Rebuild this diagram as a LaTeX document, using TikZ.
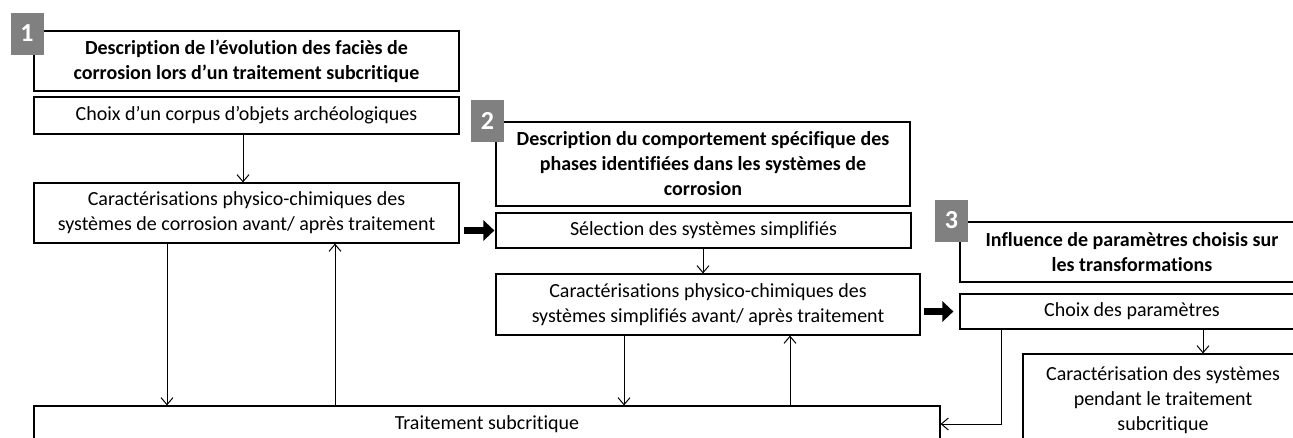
\documentclass[tikz,border=0pt]{standalone}
\usepackage{fontspec}
\setmainfont{Carlito}[Ligatures=NoCommon]
\usetikzlibrary{arrows.meta,calc}
\begin{document}
\begin{tikzpicture}[x=1pt,y=-1pt,
  box/.style={draw=black,line width=1.2pt,inner sep=0pt,align=center,font=\fontsize{20}{25}\selectfont,text=black},
  titlebox/.style={box,font=\fontsize{20}{25}\selectfont\bfseries},
  badge/.style={fill=black!50,text=white,font=\fontsize{26}{26}\selectfont\bfseries,minimum width=33pt,minimum height=42pt,inner sep=0pt},
  arr/.style={line width=1pt,-{Straight Barb[length=7pt,width=12pt,line width=1pt]}},
  bigarr/.style={line width=7pt,-{Triangle[length=11pt,width=20pt]}}
]
\useasboundingbox (0,0) rectangle (1293,437);
\fill[white] (0,0) rectangle (1293,437);
\clip (0,0) rectangle (1293,437);

% column 1
\node[titlebox,minimum width=425pt,minimum height=60pt] (t1) at (246.5,61) {Description de l’évolution des faciès de\\corrosion lors d’un traitement subcritique};
\node[box,minimum width=425pt,minimum height=37pt] (c1) at (246.5,115.5) {Choix d’un corpus d’objets archéologiques};
\node[box,minimum width=425pt,minimum height=60pt] (k1) at (246.5,213) {Caractérisations physico-chimiques des\\systèmes de corrosion avant/ après traitement};

% column 2
\node[titlebox,minimum width=414pt,minimum height=84pt] (t2) at (703,164) {Description du comportement spécifique des\\phases identifiées dans les systèmes de\\corrosion};
\node[box,minimum width=415pt,minimum height=35pt] (s2) at (703.5,230.5) {Sélection des systèmes simplifiés};
\node[box,minimum width=424pt,minimum height=61pt] (k2) at (708,304.5) {Caractérisations physico-chimiques des\\systèmes simplifiés avant/ après traitement};

% column 3
\node[titlebox,minimum width=344pt,minimum height=60pt] (t3) at (1132,252) {Influence de paramètres choisis sur\\les transformations};
\node[box,minimum width=344pt,minimum height=35pt] (p3) at (1132,311.5) {Choix des paramètres};
\node[box,minimum width=280pt,minimum height=92pt] (k3) at (1163,400) {Caractérisation des systèmes\\pendant le traitement\\subcritique};

% bottom
\node[box,minimum width=906pt,minimum height=36pt] (tr) at (487,424) {Traitement subcritique};

% badges
\node[badge] (b1) at (27,33.5) {1};
\node[badge] (b2) at (487.5,120.5) {2};
\node[badge] (b3) at (951.5,220.5) {3};

% connectors
\coordinate (xa) at (167,0);
\coordinate (xb) at (335,0);
\coordinate (xc) at (703,0);
\coordinate (xd) at (624,0);
\coordinate (xe) at (790,0);
\coordinate (xf) at (1203,0);
\coordinate (xg) at (1001,0);
\coordinate (xh) at (243,0);

\draw[arr] (c1.south -| xh) -- (k1.north -| xh);
\draw[arr] (k1.south -| xa) -- (tr.north -| xa);
\draw[arr] (tr.north -| xb) -- (k1.south -| xb);
\draw[arr] (s2.south -| xc) -- (k2.north -| xc);
\draw[arr] (k2.south -| xd) -- (tr.north -| xd);
\draw[arr] (tr.north -| xe) -- (k2.south -| xe);
\draw[arr] (p3.south -| xf) -- (k3.north -| xf);
\draw[arr] (p3.south -| xg) |- (tr.east);

\draw[bigarr,shorten <=4pt,shorten >=1pt] (k1.east |- s2.west) -- (s2.west);
\draw[bigarr,shorten <=3pt,shorten >=6pt] (k2.east |- p3.west) -- (p3.west);
\end{tikzpicture}
\end{document}
